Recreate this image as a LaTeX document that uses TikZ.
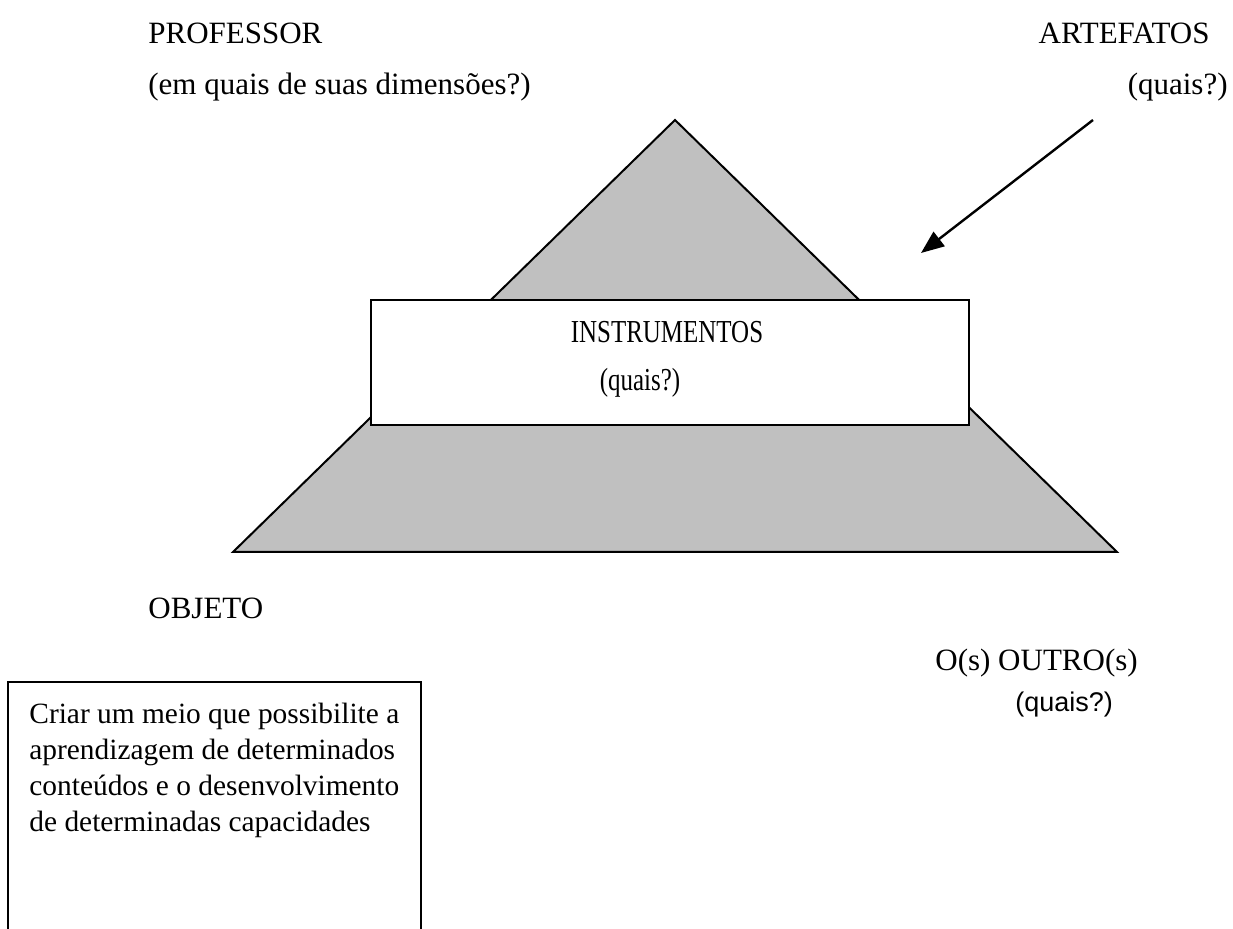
\documentclass[tikz,border=0pt]{standalone}
\usepackage{fontspec}
\setmainfont{Liberation Serif}
\newfontfamily\arialfont{Liberation Sans}
\usetikzlibrary{arrows.meta}
\definecolor{trigray}{RGB}{192,192,192}
\tikzset{
  lbl/.style={inner sep=0pt, font=\fontsize{15.5}{18}\selectfont},
  boxlbl/.style={inner sep=0pt, font=\fontsize{16}{18}\selectfont},
  outline/.style={draw=black, line width=1pt},
}
\begin{document}
\begin{tikzpicture}[x=0.5pt,y=-0.5pt]
\useasboundingbox (0,0) rectangle (1233,929);
% triangle
\coordinate (apex) at (675,120);
\coordinate (bl) at (233,552);
\coordinate (br) at (1117,552);
\filldraw[outline, fill=trigray, line join=miter] (apex) -- (br) -- (bl) -- cycle;
% instruments box
\node[outline, fill=white, minimum width=299pt, minimum height=62.5pt, inner sep=0pt] (instr) at (670,362.5) {};
\node[boxlbl, anchor=center] (instrt) at (667,332) {\scalebox{0.78}[1]{INSTRUMENTOS}};
\node[boxlbl, anchor=center] (instrq) at (640,383) {\scalebox{0.78}[1]{(quais?)}};
% top labels
\node[lbl, anchor=west] (prof) at (148,33) {PROFESSOR};
\node[lbl, anchor=west] (profq) at (148,87) {(em quais de suas dimensões?)};
\node[lbl, anchor=east] (art) at (1210,33) {ARTEFATOS};
\node[lbl, anchor=east] (artq) at (1228,87) {(quais?)};
% arrow
\coordinate (arrs) at (1093,120);
\coordinate (arrt) at (921,253);
\draw[line width=1.2pt, -{Triangle[length=11.5pt, width=9pt]}] (arrs) -- (arrt);
% objeto
\node[lbl, anchor=west] (obj) at (148,608) {OBJETO};
\coordinate (ob1) at (8,929);
\coordinate (ob2) at (8,682);
\coordinate (ob3) at (421,682);
\coordinate (ob4) at (421,929);
\draw[outline] (ob1) -- (ob2) -- (ob3) -- (ob4);
\node[inner sep=0pt, anchor=north west, align=left, font=\fontsize{14.7}{17.9}\selectfont] (objt) at (29,703)
{Criar um meio que possibilite a\\aprendizagem de determinados\\conteúdos e o desenvolvimento\\de determinadas capacidades};
% outros
\node[lbl, anchor=west] (outro) at (935,663) {O(s) OUTRO(s)};
\node[inner sep=0pt, anchor=west, font=\arialfont\fontsize{13.5}{16}\selectfont] (outroq) at (1015,705) {(quais?)};
\end{tikzpicture}
\end{document}
